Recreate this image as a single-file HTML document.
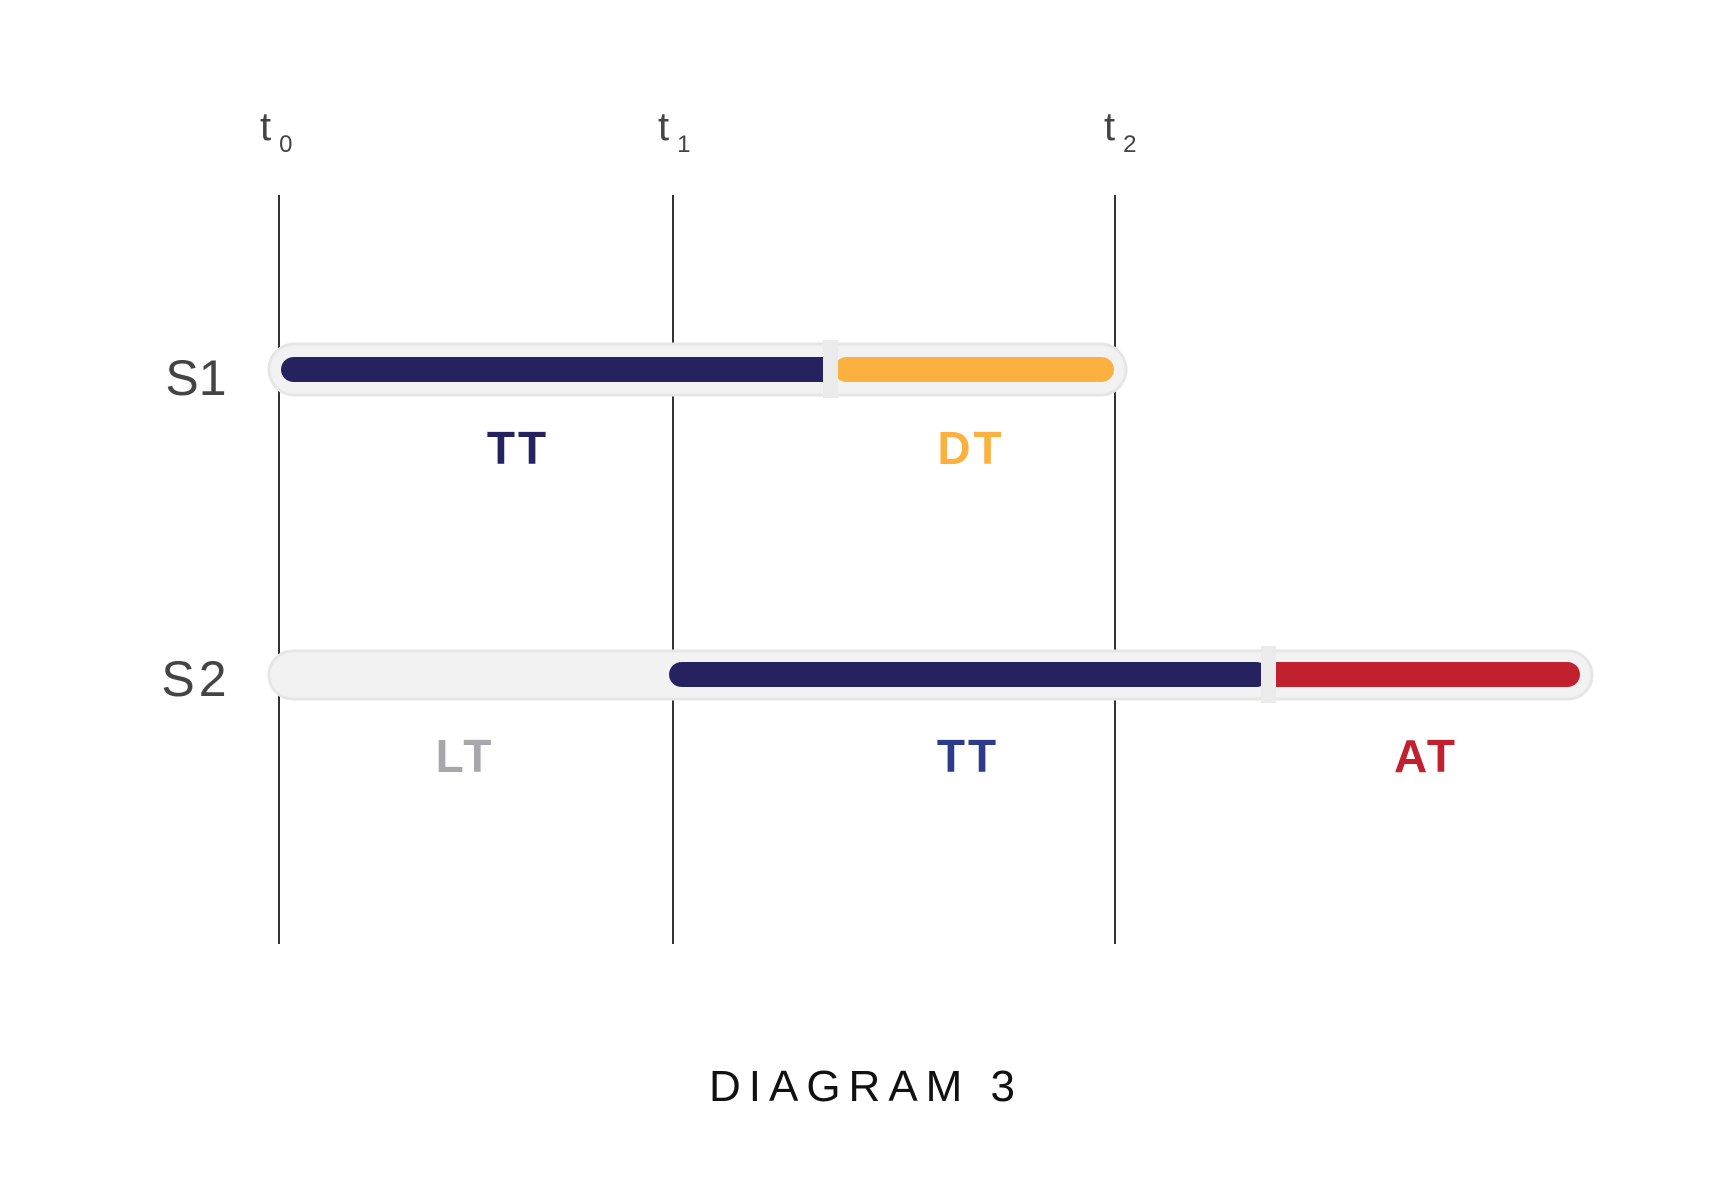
<!DOCTYPE html>
<html><head><style>html,body{margin:0;padding:0;background:#fff}svg{display:block}</style></head>
<body>
<svg width="1723" height="1185" xmlns="http://www.w3.org/2000/svg" font-family="'Liberation Sans', sans-serif">
<rect width="1723" height="1185" fill="#fff"/>
<g stroke="#333" stroke-width="2">
<line x1="279" y1="195" x2="279" y2="944"/>
<line x1="673" y1="195" x2="673" y2="944"/>
<line x1="1115" y1="195" x2="1115" y2="944"/>
</g>
<g fill="#444" font-size="40">
<text x="260" y="140">t<tspan font-size="24" dx="8" dy="12">0</tspan></text>
<text x="658" y="140">t<tspan font-size="24" dx="8" dy="12">1</tspan></text>
<text x="1104" y="140">t<tspan font-size="24" dx="8" dy="12">2</tspan></text>
</g>
<text x="196" y="395" font-size="50" fill="#444" text-anchor="middle">S1</text>
<text x="196" y="696" font-size="50" fill="#444" text-anchor="middle" letter-spacing="4">S2</text>
<!-- S1 bar -->
<rect x="269" y="344" width="857" height="51" rx="25.5" fill="#f2f2f2" stroke="#e6e6e6" stroke-width="3"/>
<rect x="281" y="357" width="560" height="25" rx="12.5" fill="#26225f"/>
<rect x="834" y="357" width="280" height="25" rx="12.5" fill="#fbb040"/>
<rect x="823" y="340" width="15" height="58" fill="#ebebeb"/>
<!-- S2 bar -->
<rect x="269" y="651" width="1323" height="48" rx="24" fill="#f2f2f2" stroke="#e6e6e6" stroke-width="3"/>
<rect x="669" y="662" width="600" height="25" rx="12.5" fill="#26225f"/>
<rect x="1262" y="662" width="318" height="25" rx="12.5" fill="#c1202f"/>
<rect x="1261" y="646" width="15" height="57" fill="#ebebeb"/>
<g font-size="46" font-weight="bold" text-anchor="middle" letter-spacing="3">
<text x="518" y="464" fill="#26225f">TT</text>
<text x="971" y="464" fill="#fbb040">DT</text>
<text x="465" y="772" fill="#a7a7ab">LT</text>
<text x="968" y="772" fill="#2e3a8c">TT</text>
<text x="1426" y="772" fill="#c1202f">AT</text>
</g>
<text x="866" y="1101" font-size="44" fill="#111" text-anchor="middle" letter-spacing="8">DIAGRAM 3</text>
</svg>
</body></html>
